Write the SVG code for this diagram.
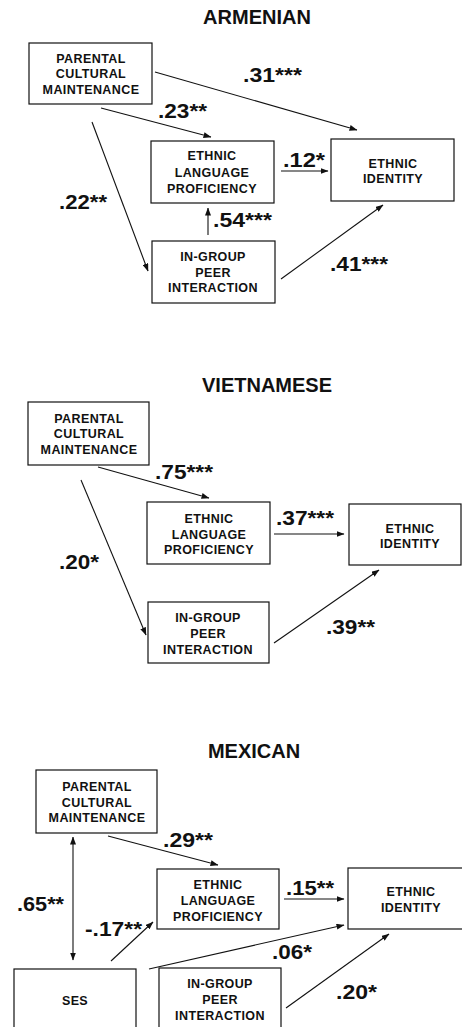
<svg xmlns="http://www.w3.org/2000/svg" width="462" height="1027" viewBox="0 0 462 1027">
<style>
text{font-family:"Liberation Sans",Arial,Helvetica,sans-serif;font-weight:bold;fill:#111}
.title{font-size:20px;text-anchor:middle}
.box rect{fill:#fff;stroke:#111;stroke-width:1.2}
.box text{font-size:12.5px;letter-spacing:0.4px;text-anchor:middle}
.lbl{font-size:20px}
.conn line{stroke:#111;stroke-width:1.1;fill:none;marker-end:url(#ah)}
.conn line.both{marker-start:url(#ah)}
</style>
<defs>
<marker id="ah" markerUnits="userSpaceOnUse" markerWidth="8" markerHeight="6" refX="7.5" refY="3" orient="auto-start-reverse">
<path d="M0,0 L8,3 L0,6 z" fill="#111"/>
</marker>
</defs>
<rect width="462" height="1027" fill="#fff"/>

<!-- ARMENIAN -->
<text class="title" x="257" y="24">ARMENIAN</text>
<g id="a-pcm" class="box"><rect x="29" y="43" width="123" height="61"/><text x="91" y="63">PARENTAL</text><text x="91" y="78">CULTURAL</text><text x="91" y="93.5">MAINTENANCE</text></g>
<g id="a-elp" class="box"><rect x="151" y="141" width="123" height="62"/><text x="212" y="160">ETHNIC</text><text x="212" y="176.5">LANGUAGE</text><text x="212" y="192.5">PROFICIENCY</text></g>
<g id="a-ei" class="box"><rect x="331" y="139" width="123" height="62"/><text x="393" y="167.5">ETHNIC</text><text x="393" y="183">IDENTITY</text></g>
<g id="a-igpi" class="box"><rect x="152" y="241" width="123" height="62"/><text x="213" y="260.5">IN-GROUP</text><text x="213" y="276.5">PEER</text><text x="213" y="292">INTERACTION</text></g>
<g id="a-conn" class="conn">
<line x1="155" y1="72" x2="357" y2="130"/>
<line x1="101" y1="108" x2="211" y2="137"/>
<line x1="92" y1="122" x2="148" y2="271"/>
<line x1="281" y1="171" x2="328" y2="171"/>
<line x1="208" y1="235" x2="208" y2="208"/>
<line x1="281" y1="279" x2="383" y2="205"/>
</g>
<g id="a-labels">
<text class="lbl" x="243" y="82" textLength="59" lengthAdjust="spacingAndGlyphs">.31***</text>
<text class="lbl" x="158" y="117.5" textLength="49" lengthAdjust="spacingAndGlyphs">.23**</text>
<text class="lbl" x="283" y="167" textLength="42" lengthAdjust="spacingAndGlyphs">.12*</text>
<text class="lbl" x="59" y="209" textLength="48" lengthAdjust="spacingAndGlyphs">.22**</text>
<text class="lbl" x="213" y="227" textLength="59" lengthAdjust="spacingAndGlyphs">.54***</text>
<text class="lbl" x="330" y="271" textLength="58" lengthAdjust="spacingAndGlyphs">.41***</text>
</g>

<!-- VIETNAMESE -->
<text class="title" x="267" y="392">VIETNAMESE</text>
<g id="v-pcm" class="box"><rect x="28" y="402" width="121" height="63"/><text x="89" y="423">PARENTAL</text><text x="89" y="438">CULTURAL</text><text x="89" y="454">MAINTENANCE</text></g>
<g id="v-elp" class="box"><rect x="147" y="502" width="123" height="62"/><text x="209" y="522.5">ETHNIC</text><text x="209" y="538.5">LANGUAGE</text><text x="209" y="554">PROFICIENCY</text></g>
<g id="v-ei" class="box"><rect x="349" y="504" width="112" height="61"/><text x="410" y="532.5">ETHNIC</text><text x="410" y="547.5">IDENTITY</text></g>
<g id="v-igpi" class="box"><rect x="148" y="602" width="121" height="61"/><text x="208" y="621.5">IN-GROUP</text><text x="208" y="638">PEER</text><text x="208" y="654">INTERACTION</text></g>
<g id="v-conn" class="conn">
<line x1="98" y1="467" x2="209" y2="498"/>
<line x1="81" y1="480" x2="146" y2="635"/>
<line x1="274" y1="534" x2="344" y2="534"/>
<line x1="274" y1="643" x2="379" y2="570"/>
</g>
<g id="v-labels">
<text class="lbl" x="155" y="479" textLength="58" lengthAdjust="spacingAndGlyphs">.75***</text>
<text class="lbl" x="276" y="525" textLength="58" lengthAdjust="spacingAndGlyphs">.37***</text>
<text class="lbl" x="59" y="569" textLength="40" lengthAdjust="spacingAndGlyphs">.20*</text>
<text class="lbl" x="326" y="634" textLength="49" lengthAdjust="spacingAndGlyphs">.39**</text>
</g>

<!-- MEXICAN -->
<text class="title" x="254" y="758">MEXICAN</text>
<g id="m-pcm" class="box"><rect x="36" y="770" width="121" height="63"/><text x="97" y="791">PARENTAL</text><text x="97" y="806.5">CULTURAL</text><text x="97" y="822">MAINTENANCE</text></g>
<g id="m-elp" class="box"><rect x="157" y="869" width="122" height="60"/><text x="218" y="889">ETHNIC</text><text x="218" y="905">LANGUAGE</text><text x="218" y="920.5">PROFICIENCY</text></g>
<g id="m-ei" class="box"><rect x="348" y="868" width="116" height="61"/><text x="411" y="896">ETHNIC</text><text x="411" y="911.5">IDENTITY</text></g>
<g id="m-ses" class="box"><rect x="14" y="969" width="122" height="62"/><text x="75" y="1005">SES</text></g>
<g id="m-igpi" class="box"><rect x="159" y="968" width="122" height="63"/><text x="220" y="988">IN-GROUP</text><text x="220" y="1004">PEER</text><text x="220" y="1020">INTERACTION</text></g>
<g id="m-conn" class="conn">
<line class="both" x1="73" y1="837" x2="73" y2="960"/>
<line x1="108" y1="836" x2="218" y2="865"/>
<line x1="111" y1="961" x2="153" y2="922"/>
<line x1="149" y1="969" x2="344" y2="925"/>
<line x1="284" y1="899" x2="344" y2="899"/>
<line x1="286" y1="1008" x2="389" y2="934"/>
</g>
<g id="m-labels">
<text class="lbl" x="163" y="847" textLength="50" lengthAdjust="spacingAndGlyphs">.29**</text>
<text class="lbl" x="17" y="911" textLength="47" lengthAdjust="spacingAndGlyphs">.65**</text>
<text class="lbl" x="85" y="936" textLength="57" lengthAdjust="spacingAndGlyphs">-.17**</text>
<text class="lbl" x="286" y="895" textLength="48" lengthAdjust="spacingAndGlyphs">.15**</text>
<text class="lbl" x="272" y="959" textLength="40" lengthAdjust="spacingAndGlyphs">.06*</text>
<text class="lbl" x="336" y="999" textLength="41" lengthAdjust="spacingAndGlyphs">.20*</text>
</g>
</svg>
